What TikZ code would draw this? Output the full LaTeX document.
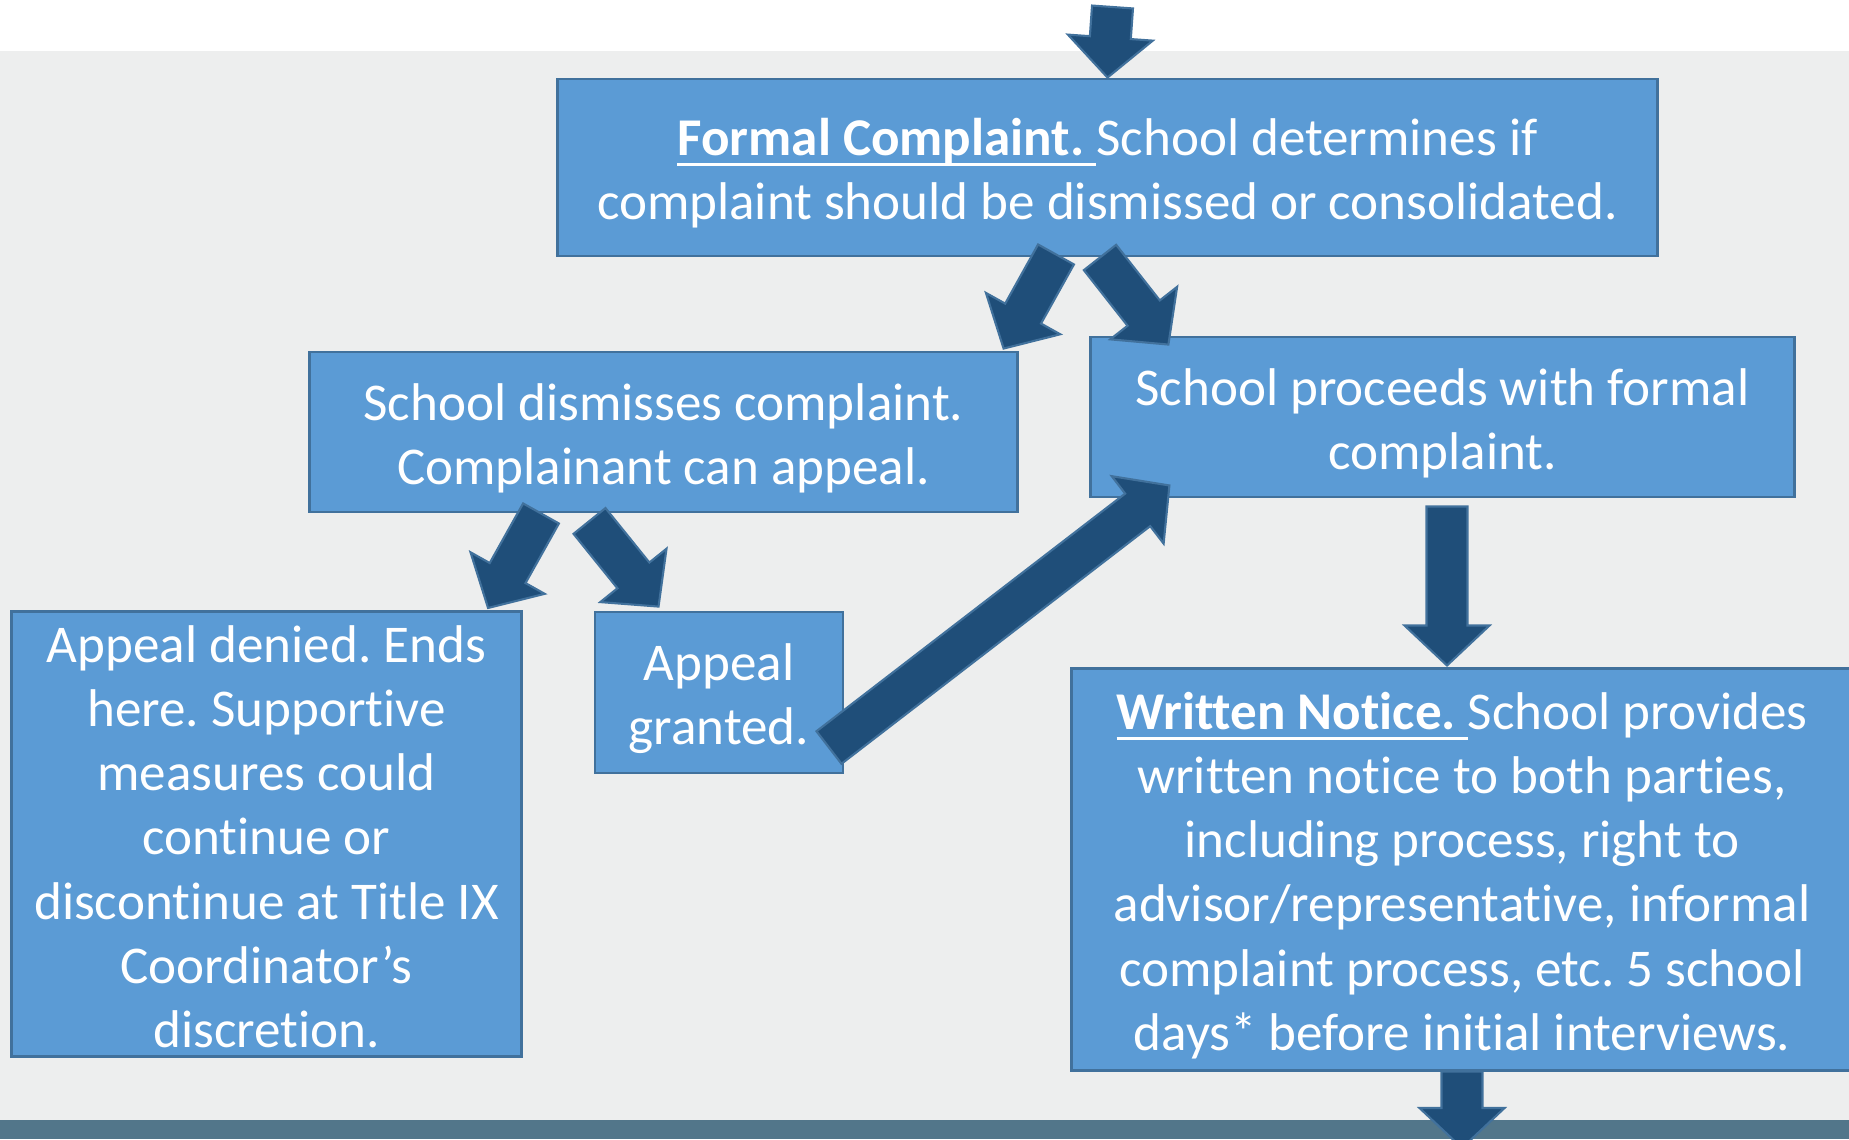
\documentclass[tikz,border=0pt]{standalone}
\usepackage{fontspec}
\setmainfont{Carlito}[Ligatures=NoCommon]
\usepackage{tikz}
\usetikzlibrary{shapes}
\usetikzlibrary{positioning,calc}
\usepackage{xcolor}
\frenchspacing

\definecolor{boxblue}{HTML}{5B9BD5}
\definecolor{boxline}{HTML}{41719C}
\definecolor{arrowblue}{HTML}{1F4E79}
\definecolor{paper}{HTML}{EDEEEE}
\definecolor{band}{HTML}{52768A}

\newsavebox{\ulbox}
\newcommand{\uln}[1]{\sbox{\ulbox}{#1}\rlap{\rule[-2.9pt]{\wd\ulbox}{0.7pt}}\usebox{\ulbox}}
\newcommand{\arrshaft}{0.205cm}
\newcommand{\arrwide}{0.425cm}
\newcommand{\arrhead}{0.40cm}
\newcommand{\topstrut}{\rule{0pt}{14pt}}
\newcommand{\bigarrow}[2]{%
  \coordinate (hb) at ($(#2)!\arrhead!(#1)$);
  \draw[fatarrow] ($(#1)!\arrshaft!90:(#2)$) -- ($(hb)!\arrshaft!90:(#2)$)
    -- ($(hb)!\arrwide!90:(#2)$) -- (#2) -- ($(hb)!\arrwide!-90:(#2)$)
    -- ($(hb)!\arrshaft!-90:(#2)$) -- ($(#1)!\arrshaft!-90:(#2)$) -- cycle;}

\tikzset{
  stepbox/.style={draw=boxline, line width=0.8pt, fill=boxblue, text=white,
    inner sep=0pt, align=center, font=\fontsize{15.1pt}{18.25pt}\selectfont},
  fatarrow/.style={draw=boxline, line width=0.6pt, fill=arrowblue}
}

\begin{document}
\begin{tikzpicture}[x=0.01cm,y=-0.01cm]
\useasboundingbox (0,0) rectangle (1849,1139);
\fill[white] (0,0) rectangle (1849,51);
\fill[paper] (0,51) rectangle (1849,1120);
\fill[band] (0,1120) rectangle (1849,1139);

\node[stepbox, minimum width=10.99cm, minimum height=1.77cm] (formal) at (1107.5,167.5)
  {\topstrut\uln{\textbf{Formal Complaint.}\ }School determines if\\complaint should be dismissed or consolidated.};
\node[stepbox, minimum width=7.07cm, minimum height=1.60cm] (dismiss) at (663.5,432)
  {\topstrut School dismisses complaint.\\Complainant can appeal.};
\node[stepbox, minimum width=7.03cm, minimum height=1.60cm] (proceed) at (1442.5,417)
  {\topstrut School proceeds with formal\\complaint.};
\node[stepbox, minimum width=5.10cm, minimum height=4.45cm] (denied) at (266.5,834)
  {\rule{0pt}{12pt}Appeal denied. Ends\\here. Supportive\\measures could\\continue or\\discontinue at Title IX\\Coordinator’s\\discretion.};
\node[stepbox, minimum width=2.48cm, minimum height=1.61cm] (granted) at (719,692.5)
  {\topstrut Appeal\\granted.};
\node[stepbox, minimum width=7.80cm, minimum height=4.01cm] (notice) at (1462,869.5)
  {\topstrut\uln{\textbf{Written Notice.}\ }School provides\\written notice to both parties,\\including process, right to\\advisor/representative, informal\\complaint process, etc. 5 school\\days* before initial interviews.};

\coordinate (in) at (1112.5,7);
\coordinate (out) at (1462,1148);
\coordinate (a1) at ($(formal.south)+(-51.5,-3)$);
\coordinate (a2) at ($(dismiss.north east)+(-15,-2)$);
\coordinate (b1) at ($(formal.south)+(-7.5,0)$);
\coordinate (b2) at ($(proceed.north west)+(79,9)$);
\coordinate (c1) at ($(dismiss.south)+(-122.5,0)$);
\coordinate (c2) at ($(denied.north east)+(-35,-2)$);
\coordinate (d1) at ($(dismiss.south)+(-74,7.5)$);
\coordinate (d2) at ($(granted.north west)+(65,-4)$);
\coordinate (e1) at ($(granted.east)+(-15.5,55)$);
\coordinate (e2) at ($(proceed.south west)+(80,-13)$);
\coordinate (f1) at ($(proceed.south)+(4.5,8)$);
\coordinate (f2) at ($(notice.north)+(-15,-2)$);

\bigarrow{in}{formal.north}
\bigarrow{a1}{a2}
\bigarrow{b1}{b2}
\bigarrow{c1}{c2}
\bigarrow{d1}{d2}
\bigarrow{e1}{e2}
\bigarrow{f1}{f2}
\bigarrow{notice.south}{out}
\end{tikzpicture}
\end{document}
